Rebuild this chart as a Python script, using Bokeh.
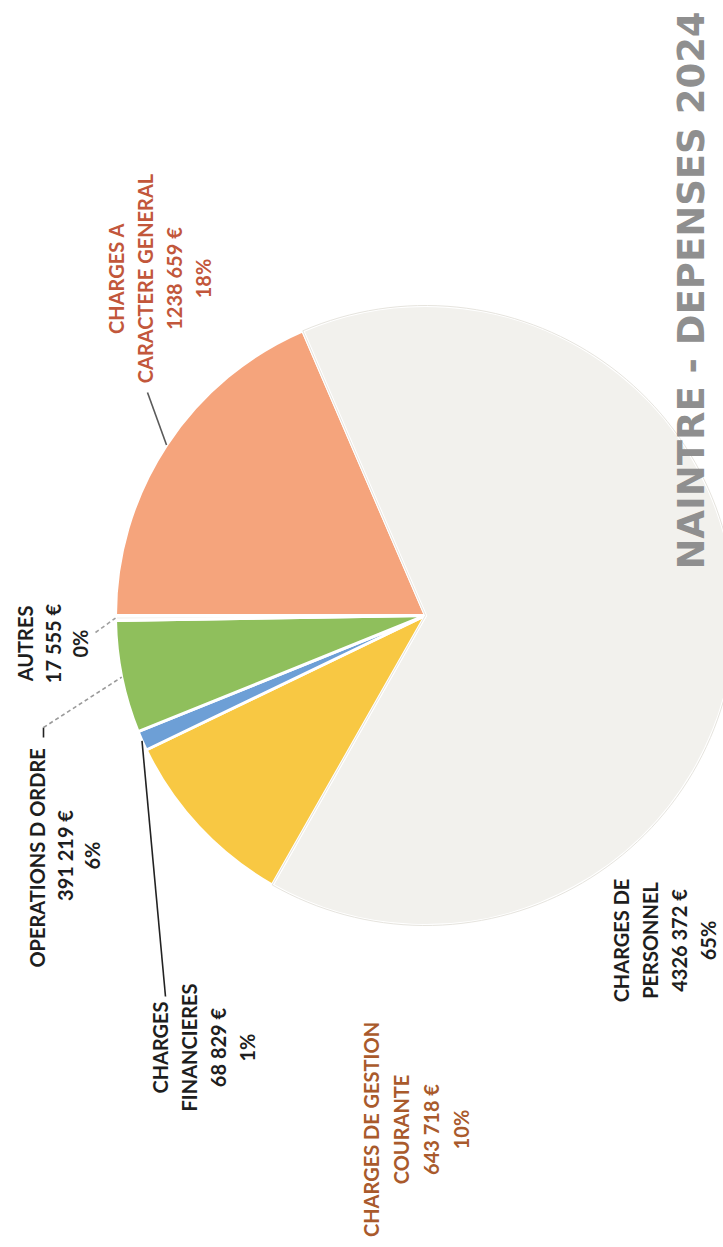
import math
from bokeh.plotting import figure
from bokeh.models import ColumnDataSource
from bokeh.core.properties import value
from bokeh.embed import file_html
from bokeh.resources import INLINE

# ---- data (order as drawn, clockwise from the start line) ----
categories = ["CHARGES A\nCARACTERE GENERAL", "CHARGES DE\nPERSONNEL",
              "CHARGES DE GESTION\nCOURANTE", "CHARGES\nFINANCIERES",
              "OPERATIONS  D ORDRE", "AUTRES"]
amounts = [1238659, 4326372, 643718, 68829, 391219, 17555]
amount_labels = ["1238 659 €", "4326 372 €", "643 718 €", "68 829 €", "391 219 €", "17 555 €"]
percent_labels = ["18%", "65%", "10%", "1%", "6%", "0%"]
title_text = "NAINTRE - DEPENSES 2024"

# ---- styling / layout ----
W, H = 723, 1247
slice_colors = ["#f5a47c", "#f2f1ed", "#f8c843", "#6d9fd6", "#8fbf5c", "#f7f7f5"]
label_colors = ["#c2573b", "#1e1e1e", "#a95a2c", "#1e1e1e", "#1e1e1e", "#1e1e1e"]
# label centres in page pixels (x from left, y from top)
label_pos = [(159, 278), (664, 940), (415, 1129), (203, 1047), (64, 855), (52, 643)]
line_gap = [29, 29, 30, 29, 27.5, 27.5]
# label-side end of each leader line (page pixels), None = no leader
leader_start = [[(147, 392)], None, None, [(165, 996)], [(43, 737), (43, 727)], [(95, 632)]]
leader_color = ["#5a5a5a", None, None, "#222222", "#9a9a9a", "#a0a0a0"]
leader_dash = ["solid", None, None, "solid", "4 3", "4 3"]

cx_pg, cy_pg, R = 425, 615, 310
start_deg = 180.0


def Y(y_page):
    return H - y_page


p = figure(width=W, height=H, x_range=(0, W), y_range=(0, H),
           output_backend="svg", toolbar_location=None, min_border=0)
p.axis.visible = False
p.grid.visible = False
p.outline_line_color = None
p.background_fill_color = "white"
p.border_fill_color = "white"

total = sum(amounts)
starts, ends, mids = [], [], []
cum = 0.0
for a in amounts:
    s = math.radians(start_deg) - 2 * math.pi * cum / total
    cum += a
    e = math.radians(start_deg) - 2 * math.pi * cum / total
    starts.append(s)
    ends.append(e)
    mids.append((s + e) / 2)

src = ColumnDataSource(dict(x=[cx_pg] * len(amounts), y=[Y(cy_pg)] * len(amounts),
                            start=starts, end=ends, color=slice_colors))
p.wedge(x="x", y="y", radius=R, start_angle="start", end_angle="end",
        direction="clock", fill_color="color", line_color="white", line_width=3,
        source=src)
# faint rim for the pale slice
p.wedge(x=cx_pg, y=Y(cy_pg), radius=R, start_angle=starts[1], end_angle=ends[1],
        direction="clock", fill_color=None, line_color="#e6e4de", line_width=1)

# leader lines
for i, pts in enumerate(leader_start):
    if pts is None:
        continue
    ex = cx_pg + R * math.cos(mids[i])
    ey = cy_pg - R * math.sin(mids[i])
    xs = [q[0] for q in pts] + [ex]
    ys = [Y(q[1]) for q in pts] + [Y(ey)]
    if i == 4:
        p.line(xs[:2], ys[:2], line_color="#222222", line_width=1.6)
        p.line(xs[1:], ys[1:], line_color=leader_color[i], line_width=1.6,
               line_dash=leader_dash[i])
    else:
        p.line(xs, ys, line_color=leader_color[i], line_width=1.6,
               line_dash=leader_dash[i])

# labels (rotated, reading bottom-to-top)
tx, ty, tt, tc = [], [], [], []
for i, cat in enumerate(categories):
    lines = cat.split("\n") + [amount_labels[i], percent_labels[i]]
    n = len(lines)
    lx, ly = label_pos[i]
    for k, ln in enumerate(lines):
        tx.append(lx + (k - (n - 1) / 2) * line_gap[i])
        ty.append(Y(ly))
        tt.append(ln)
        tc.append(label_colors[i])
lsrc = ColumnDataSource(dict(x=tx, y=ty, text=tt, color=tc))
p.text(x="x", y="y", text="text", source=lsrc, angle=math.pi / 2,
       text_align="center", text_baseline="middle",
       text_font=value("Lato"), text_font_style="bold",
       text_font_size="20px", text_color="color")

# title
p.text(x=[691], y=[Y(290)], text=[title_text], angle=math.pi / 2,
       text_align="center", text_baseline="middle",
       text_font=value("DejaVu Sans"), text_font_style="bold",
       text_font_size="37px", text_color="#8f8f8f")

open("out.html", "w").write(file_html(p, INLINE))
